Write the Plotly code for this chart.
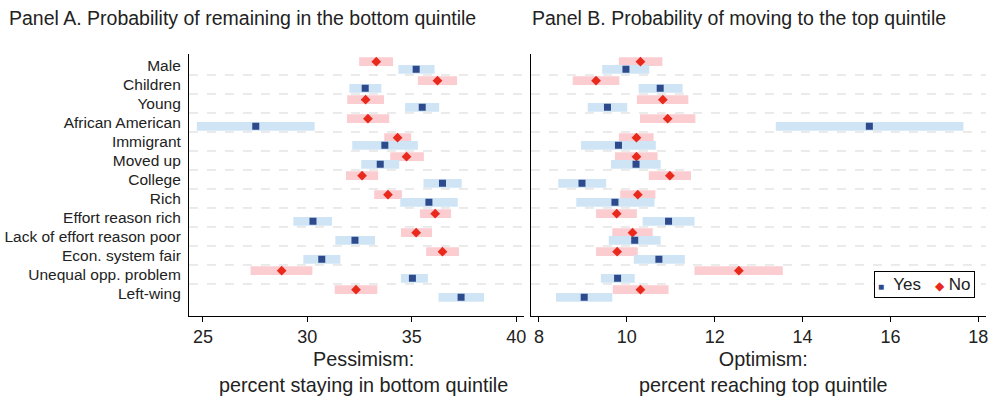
import plotly.graph_objects as go

categories = ["Male", "Children", "Young", "African American", "Immigrant", "Moved up",
              "College", "Rich", "Effort reason rich", "Lack of effort reason poor",
              "Econ. system fair", "Unequal opp. problem", "Left-wing"]

# Panel A: pessimism (percent staying in bottom quintile)
a_yes = [35.21, 32.77, 35.50, 27.53, 33.71, 33.49, 36.47, 35.82, 30.27, 32.28, 30.69, 35.03, 37.36]
a_yes_lo = [34.36, 32.01, 34.68, 24.71, 32.15, 32.58, 35.56, 34.45, 29.33, 31.34, 29.81, 34.48, 36.28]
a_yes_hi = [36.09, 33.54, 36.31, 30.35, 35.29, 34.40, 37.39, 37.20, 31.18, 33.24, 31.58, 35.77, 38.46]
a_no = [33.30, 36.23, 32.79, 32.90, 34.32, 34.75, 32.62, 33.86, 36.12, 35.21, 36.47, 28.77, 32.33]
a_no_lo = [32.48, 35.29, 31.91, 31.90, 33.68, 33.97, 31.85, 33.20, 35.39, 34.48, 35.69, 27.28, 31.31]
a_no_hi = [34.10, 37.17, 33.67, 33.92, 34.97, 35.58, 33.39, 34.53, 36.88, 35.97, 37.26, 30.24, 33.35]

# Panel B: optimism (percent reaching top quintile)
b_yes = [9.98, 10.76, 9.56, 15.52, 9.81, 10.21, 8.98, 9.73, 10.95, 10.18, 10.73, 9.79, 9.03]
b_yes_lo = [9.44, 10.27, 9.11, 13.39, 8.96, 9.64, 8.44, 8.85, 10.36, 9.59, 10.16, 9.41, 8.39]
b_yes_hi = [10.51, 11.27, 10.01, 17.66, 10.66, 10.77, 9.53, 10.63, 11.54, 10.77, 11.32, 10.18, 9.67]
b_no = [10.31, 9.30, 10.82, 10.93, 10.22, 10.22, 10.98, 10.25, 9.77, 10.13, 9.78, 12.55, 10.31]
b_no_lo = [9.82, 8.77, 10.23, 10.30, 9.82, 9.73, 10.50, 9.85, 9.30, 9.67, 9.30, 11.54, 9.68]
b_no_hi = [10.81, 9.83, 11.40, 11.56, 10.61, 10.70, 11.46, 10.65, 10.23, 10.59, 10.25, 13.55, 10.95]

a_ticks = [25, 30, 35, 40]
b_ticks = [8, 10, 12, 14, 16, 18]

FONT = "Liberation Sans, Arial, Helvetica, sans-serif"
TXT = "#222222"
BLUE = "#2c4a8c"
RED = "#e8291c"
BLUE_BAND = "#cfe4f4"
RED_BAND = "#fbcdd1"
OFF = 0.2
BAND_W = 0.46

n = len(categories)
pos = list(range(n))
pos_no = [p - OFF for p in pos]
pos_yes = [p + OFF for p in pos]

fig = go.Figure()


def add_panel(xa, ya, yes, ylo, yhi, no, nlo, nhi):
    fig.add_trace(go.Bar(orientation="h", y=pos_no, base=nlo,
                         x=[h - l for l, h in zip(nlo, nhi)], width=BAND_W,
                         marker=dict(color=RED_BAND, line=dict(width=0)),
                         xaxis=xa, yaxis=ya, showlegend=False, hoverinfo="skip"))
    fig.add_trace(go.Bar(orientation="h", y=pos_yes, base=ylo,
                         x=[h - l for l, h in zip(ylo, yhi)], width=BAND_W,
                         marker=dict(color=BLUE_BAND, line=dict(width=0)),
                         xaxis=xa, yaxis=ya, showlegend=False, hoverinfo="skip"))
    fig.add_trace(go.Scatter(x=no, y=pos_no, mode="markers", name="No",
                             marker=dict(symbol="diamond", size=7.5, color=RED),
                             xaxis=xa, yaxis=ya, showlegend=False))
    fig.add_trace(go.Scatter(x=yes, y=pos_yes, mode="markers", name="Yes",
                             marker=dict(symbol="square", size=7, color=BLUE),
                             xaxis=xa, yaxis=ya, showlegend=False))


add_panel("x", "y", a_yes, a_yes_lo, a_yes_hi, a_no, a_no_lo, a_no_hi)
add_panel("x2", "y2", b_yes, b_yes_lo, b_yes_hi, b_no, b_no_lo, b_no_hi)

W, H = 996, 397
ydom = [1 - 315.7 / H, 1 - 54 / H]
yrange = [13.17, -0.605]

axis_common = dict(showline=True, linecolor="black", linewidth=1, showgrid=False,
                   zeroline=False, mirror=False)

fig.update_layout(
    width=W, height=H, margin=dict(l=0, r=0, t=0, b=0),
    paper_bgcolor="white", plot_bgcolor="white",
    barmode="overlay", showlegend=False,
    font=dict(family=FONT, color=TXT),
    xaxis=dict(domain=[189.3 / W, 525 / W], range=[24.33, 40.37], tickvals=a_ticks,
               ticks="outside", ticklen=5, tickcolor="black", tickfont=dict(size=18),
               anchor="y", **axis_common),
    yaxis=dict(domain=ydom, range=yrange, tickvals=pos, ticktext=categories,
               ticks="", tickfont=dict(size=15.5), ticklabelstandoff=4,
               anchor="x", **axis_common),
    xaxis2=dict(domain=[532 / W, 988 / W], range=[7.818, 18.175], tickvals=b_ticks,
                ticks="outside", ticklen=5, tickcolor="black", tickfont=dict(size=18),
                anchor="y2", **axis_common),
    yaxis2=dict(domain=ydom, range=yrange, tickvals=pos, showticklabels=False,
                ticks="", anchor="x2", **axis_common),
)

# dashed separators between categories
for xr, yr in (("x domain", "y"), ("x2 domain", "y2")):
    for k in range(n - 1):
        fig.add_shape(type="line", xref=xr, yref=yr, x0=0, x1=1, y0=k + 0.5, y1=k + 0.5,
                      line=dict(color="#d6d6d6", width=1, dash="dash"), layer="below")

# panel titles
fig.add_annotation(text="Panel A. Probability of remaining in the bottom quintile",
                   xref="paper", yref="paper", x=7 / W, y=1 - 18 / H,
                   xanchor="left", yanchor="middle", showarrow=False,
                   font=dict(size=19.5, color=TXT))
fig.add_annotation(text="Panel B. Probability of moving to the top quintile",
                   xref="paper", yref="paper", x=531 / W, y=1 - 18 / H,
                   xanchor="left", yanchor="middle", showarrow=False,
                   font=dict(size=19.5, color=TXT))

# axis titles
fig.add_annotation(text="Pessimism:<br>percent staying in bottom quintile",
                   xref="paper", yref="paper", x=364 / W, y=1 - 372 / H,
                   xanchor="center", yanchor="middle", showarrow=False,
                   font=dict(size=19.8, color=TXT))
fig.add_annotation(text="Optimism:<br>percent reaching top quintile",
                   xref="paper", yref="paper", x=765 / W, y=1 - 372 / H,
                   xanchor="center", yanchor="middle", showarrow=False,
                   font=dict(size=19.8, color=TXT))

# legend box
fig.add_annotation(
    text=f"<span style='color:{BLUE};font-size:10px'>■</span>&nbsp; Yes&nbsp;  "
         f"<span style='color:{RED};font-size:12px'>◆</span> No",
    xref="paper", yref="paper", x=876 / W, y=1 - 271 / H,
    xanchor="left", yanchor="top", showarrow=False,
    font=dict(size=17, color=TXT),
    bordercolor="black", borderwidth=1, borderpad=3, bgcolor="white")

fig.write_html("out.html")
